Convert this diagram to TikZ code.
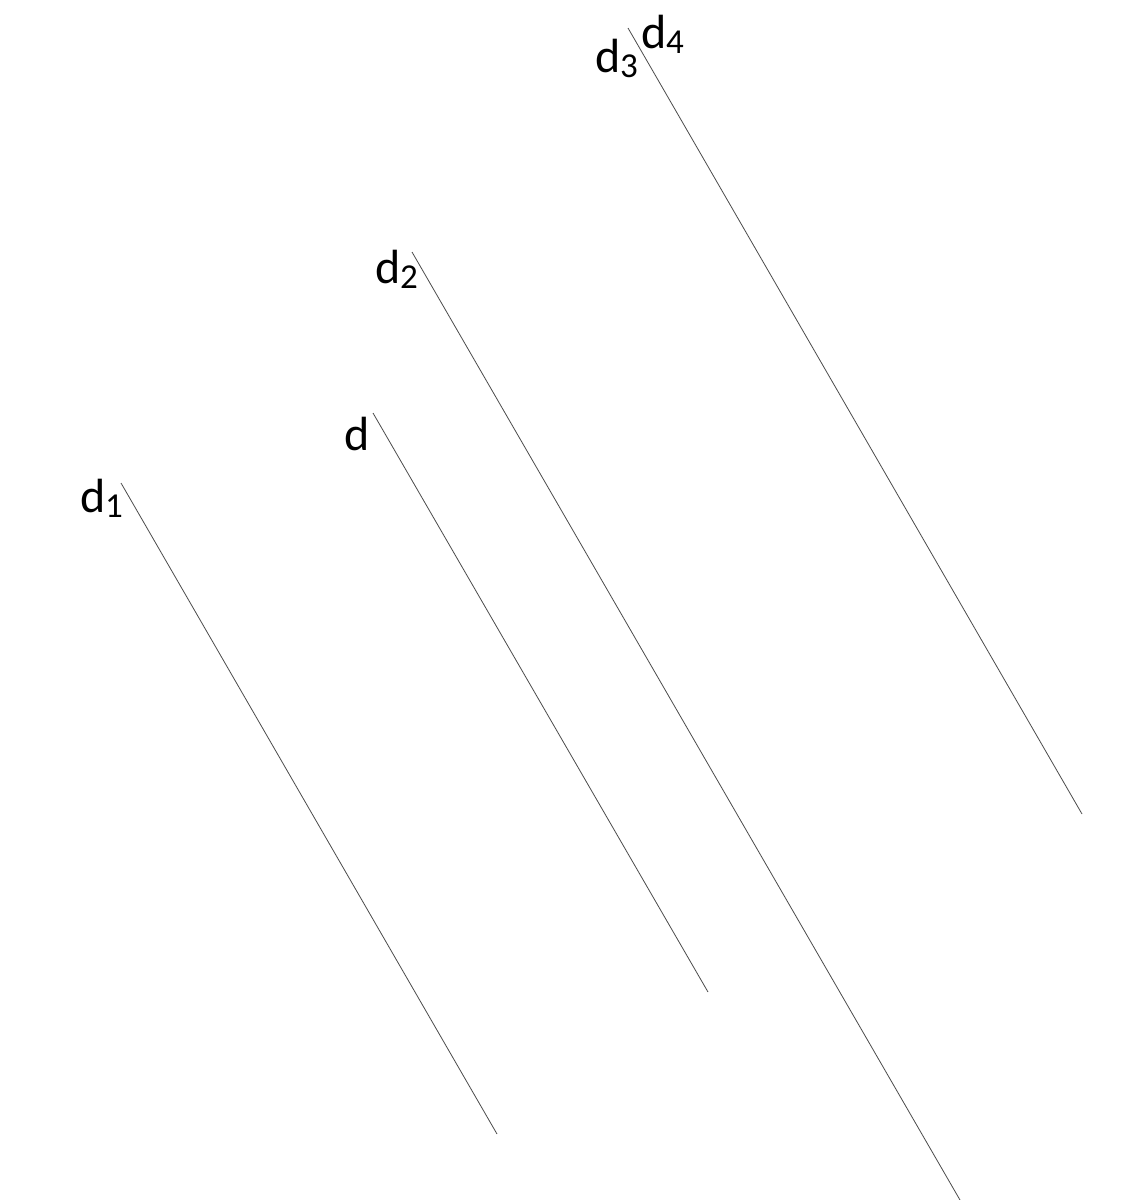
\documentclass[tikz,border=0pt]{standalone}
\usepackage{fontspec}
\setmainfont{Carlito}
\newcommand{\lblsub}[1]{d\raisebox{-5.5pt}{\fontsize{35}{35}\selectfont #1}}
\tikzset{
  lbl/.style={anchor=base west, inner sep=0pt, outer sep=0pt, font=\fontsize{48}{52}\selectfont, text=black},
  ln/.style={draw=black!70, line width=0.8pt}
}
\begin{document}
\begin{tikzpicture}[x=1pt,y=-1pt]
\useasboundingbox[fill=white] (0,0) rectangle (1120,1200);
% line end points
\coordinate (a1) at (121,483);  \coordinate (b1) at (497,1134);
\coordinate (a)  at (373,413);  \coordinate (b)  at (708,992);
\coordinate (a2) at (412,252);  \coordinate (b2) at (960,1200);
\coordinate (a3) at (628,28);   \coordinate (b3) at (1082,814);
\draw[ln] (a1) -- (b1);
\draw[ln] (a) -- (b);
\draw[ln] (a2) -- (b2);
\draw[ln] (a3) -- (b3);
% labels
\node[lbl] (l1) at (80,512) {\lblsub{1}};
\node[lbl] (l)  at (344,450) {d};
\node[lbl] (l2) at (375,283) {\lblsub{2}};
\node[lbl] (l3) at (595,72) {\lblsub{3}};
\node[lbl] (l4) at (641,48) {\lblsub{4}};
\end{tikzpicture}
\end{document}
